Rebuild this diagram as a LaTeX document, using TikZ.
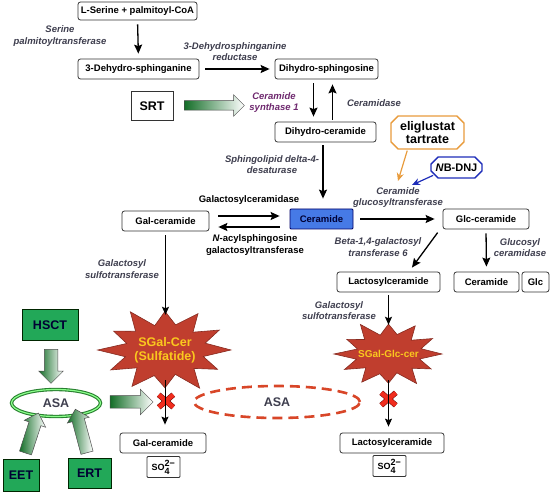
\documentclass[tikz,border=0pt]{standalone}
\usepackage{fontspec}
\setmainfont{Liberation Sans}
\usepackage{tikz}
\usetikzlibrary{shapes,arrows.meta,backgrounds,calc,positioning}
\definecolor{enzgray}{RGB}{62,62,78}
\definecolor{synpurple}{RGB}{110,40,110}
\definecolor{cerblue}{RGB}{70,122,230}
\definecolor{boxgreen}{RGB}{34,168,88}
\definecolor{darkgreen}{RGB}{20,110,40}
\definecolor{asagreen}{RGB}{50,160,60}
\definecolor{burstred}{RGB}{192,62,46}
\definecolor{burstyellow}{RGB}{250,200,30}
\definecolor{eliorange}{RGB}{232,155,60}
\definecolor{nbblue}{RGB}{30,45,185}
\definecolor{asared}{RGB}{216,70,40}
\definecolor{xred}{RGB}{240,45,30}

\begin{document}
\begin{tikzpicture}[x=1pt, y=-1pt,
mol/.style={draw=black!80, rounded corners=2.5pt, fill=white, line width=0.8pt, minimum height=20pt, inner sep=0pt, font=\fontsize{9.5}{11}\selectfont\bfseries},
enz/.style={align=center, text=enzgray, inner sep=0pt, font=\fontsize{9.5}{11.5}\selectfont\bfseries\itshape},
lbl/.style={enz, text=black, font=\fontsize{9.5}{11.5}\selectfont\bfseries},
arr/.style={-{Stealth[length=9pt,width=8pt,inset=1.5pt]}, line width=1.3pt, shorten <=4pt, shorten >=5pt},
thin arr/.style={arr, line width=1pt, -{Stealth[length=8pt,width=7pt,inset=1.5pt]}},
therapy/.style={draw=black!85!green, fill=boxgreen, line width=1pt, font=\fontsize{12.5}{14}\selectfont\bfseries, text=black!80!blue},
fat/.style={single arrow, draw=black!70, line width=0.5pt, left color=darkgreen, right color=white, inner xsep=0pt, single arrow head indent=0pt},
burst/.style={fill=burstred, draw=burstred!70!black, line width=0.6pt},
burstlbl/.style={align=center, text=burstyellow, inner sep=0pt},
xmark/.style={cross out, draw=red!40!black, double=xred, double distance=4.5pt, line width=0.5pt, minimum width=14pt, minimum height=12pt, inner sep=0pt},
drug/.style={chamfered rectangle, line width=1.4pt, fill=white, align=center, inner sep=1pt},
pill/.style={ellipse, fill=white, text=enzgray, font=\fontsize{12.5}{14}\selectfont\bfseries},
]
\useasboundingbox (0,0) rectangle (550,492);

\node[mol, minimum width=119pt, minimum height=18pt] (ser) at (137.5,11) {L-Serine + palmitoyl-CoA};
\node[mol, minimum width=121pt] (dhsn) at (138.5,69) {3-Dehydro-sphinganine};
\node[mol, minimum width=103pt] (dhsg) at (326.5,69) {Dihydro-sphingosine};
\node[mol, minimum width=101pt] (dhc) at (325.5,132) {Dihydro-ceramide};
\node[mol, fill=cerblue, draw=blue!40!black, rounded corners=1pt, minimum width=63pt, text=blue!20!black] (cer) at (321.5,219) {Ceramide};
\node[mol, minimum width=87pt] (gal) at (165.5,221) {Gal-ceramide};
\node[mol, minimum width=86pt] (glc) at (486,219) {Glc-ceramide};
\node[mol, minimum width=103pt] (lac) at (388.5,282) {Lactosylceramide};
\node[mol, minimum width=65pt] (cerb) at (486.5,282) {Ceramide};
\node[mol, minimum width=27pt] (glcb) at (535.5,282) {Glc};
\node[mol, minimum width=86pt] (galb) at (163,443) {Gal-ceramide};
\node[mol, rounded corners=1pt, minimum width=33pt, minimum height=21pt, font=\fontsize{9}{10}\selectfont\bfseries] (soa) at (163.5,467) {SO$_{\textbf{4}}^{\textbf{2−}}$};
\node[mol, minimum width=104pt] (lacb) at (392,443) {Lactosylceramide};
\node[mol, rounded corners=1pt, minimum width=33pt, minimum height=21pt, font=\fontsize{9}{10}\selectfont\bfseries] (sob) at (389.5,466) {SO$_{\textbf{4}}^{\textbf{2−}}$};

\node[draw=black!80, line width=0.8pt, minimum width=42pt, minimum height=29pt, font=\fontsize{12.5}{14}\selectfont\bfseries] (srt) at (152,106) {SRT};
\node[therapy, minimum width=56pt, minimum height=31pt] (hsct) at (50,325.5) {HSCT};
\node[therapy, minimum width=36pt, minimum height=31pt] (eet) at (21,475.5) {EET};
\node[therapy, minimum width=43pt, minimum height=29pt] (ert) at (89.5,473.5) {ERT};

\node[pill, draw=asagreen!80!black, double=green!45, double distance=1.2pt, line width=1.1pt, minimum width=89pt, minimum height=27pt] (asa) at (56,403) {ASA};
\node[pill, draw=asared, line width=2.6pt, dash pattern=on 10pt off 6pt, minimum width=166pt, minimum height=32pt] (asad) at (277,402) {ASA};

\node[drug, draw=eliorange, minimum width=73pt, minimum height=33pt, font=\fontsize{12.5}{13.5}\selectfont\bfseries] (eli) at (427.5,132.5) {eliglustat\\tartrate};
\node[drug, draw=nbblue, minimum width=51pt, minimum height=21pt, font=\fontsize{11}{12}\selectfont\bfseries] (nb) at (456.5,167.5) {\textit{N}B-DNJ};
\coordinate (gcsa) at (398,181);
\coordinate (gcsb) at (412,185);

\node[enz] (spt) at (60,36) {Serine\\palmitoyltransferase};
\node[enz] (kdsr) at (235,51.5) {3-Dehydrosphinganine\\reductase};
\node[enz, text=synpurple] (cs1) at (274,102.5) {Ceramide\\synthase 1};
\node[enz] (cdase) at (374,103) {Ceramidase};
\node[enz] (d4) at (272,164.5) {Sphingolipid delta-4-\\desaturase};
\node[enz] (gcs) at (398,197.5) {Ceramide\\glucosyltransferase};
\node[lbl] (galc) at (249,200) {Galactosylceramidase};
\node[lbl] (cgt) at (255,245) {\textit{N}-acylsphingosine\\galactosyltransferase};
\node[enz] (b4) at (378,247) {Beta-1,4-galactosyl\\transferase 6};
\node[enz] (glcd) at (520,247.5) {Glucosyl\\ceramidase};
\node[enz] (gsta) at (122,269) {Galactosyl\\sulfotransferase};
\node[enz] (gstb) at (339,310.5) {Galactosyl\\sulfotransferase};

\node[burstlbl, minimum height=64pt, font=\fontsize{12.5}{14}\selectfont\bfseries] (sulf) at (165,350) {SGal-Cer\\(Sulfatide)};
\node[burstlbl, minimum height=52pt, font=\fontsize{10}{12}\selectfont\bfseries] (sgg) at (388.5,354) {SGal-Glc-cer};
\begin{scope}[on background layer]
\draw[burst, shift={(sulf.center)}] (66,0) \foreach \a/\r in {15/.6,30/.92,45/.62,60/1.05,75/.6,90/.9,105/.63,120/1,135/.6,150/.95,165/.62,180/1.02,195/.6,210/.9,225/.63,240/1.05,255/.6,270/.92,285/.62,300/1,315/.6,330/.95,345/.63} { -- ({\r*66*cos(\a)},{\r*42*sin(\a)}) } -- cycle;
\draw[burst, shift={(sgg.center)}] (53.5,0) \foreach \a/\r in {15/.6,30/.92,45/.62,60/1.05,75/.6,90/.9,105/.63,120/1,135/.6,150/.95,165/.62,180/1.02,195/.6,210/.9,225/.63,240/1.05,255/.6,270/.92,285/.62,300/1,315/.6,330/.95,345/.63} { -- ({\r*53.5*cos(\a)},{\r*32.5*sin(\a)}) } -- cycle;
\end{scope}

\node[fat, minimum height=60pt, inner ysep=4.5pt, single arrow head extend=6pt] (srtarr) at (212,105.5) {};
\node[fat, rotate=-90, minimum height=34pt, inner ysep=6.5pt, single arrow head extend=5.5pt] (hsarr) at (51,363) {};
\node[fat, minimum height=43pt, inner ysep=6pt, single arrow head extend=6.5pt] (asaarr) at (128.5,402) {};
\node[fat, rotate=72, minimum height=42pt, inner ysep=6pt, single arrow head extend=5pt] (eetarr) at (31,436) {};
\node[fat, rotate=105, minimum height=45pt, inner ysep=6pt, single arrow head extend=5pt] (ertarr) at (82,434) {};

\node[xmark] (blka) at (166,401) {};
\node[xmark] (blkb) at (388.5,399) {};

\draw[arr] (ser.south) -- (dhsn.north);
\draw[arr, shorten <=6pt] (dhsn) -- (dhsg);
\draw[arr] ([xshift=-13pt]dhsg.south) -- ([xshift=-12pt]dhc.north);
\draw[arr, shorten <=2pt] ([xshift=7pt]dhc.north) -- ([xshift=6pt]dhsg.south);
\draw[arr, shorten <=3pt, shorten >=10pt] ([xshift=-2.5pt]dhc.south) -- ([xshift=1.5pt]cer.north);
\draw[arr, shorten <=9pt, shorten >=10pt] ($(gal.east)+(0,-5)$) -- ($(cer.west)+(0,-3)$);
\draw[arr, shorten <=10pt, shorten >=9pt] ($(cer.west)+(0,8)$) -- ($(gal.east)+(0,6)$);
\draw[arr, shorten <=7pt, shorten >=8pt] (cer) -- (glc);
\draw[arr] ([xshift=-46pt]glc.south) -- ([xshift=20.5pt]lac.north);
\draw[arr] (glc.south) -- (cerb.north);
\draw[thin arr, shorten >=3pt] (gal.south) -- (gal.south |- sulf.north);
\draw[thin arr, shorten <=3pt, shorten >=3pt] (lac.south) -- (sgg.north);
\draw[thin arr, shorten <=-2pt, shorten >=8pt] (sulf.south) -- (sulf.south |- galb.north);
\draw[thin arr, shorten <=0pt, shorten >=6pt] (sgg.south) -- (sgg.south |- lacb.north);
\draw[-{Stealth[length=8pt,width=7pt]}, line width=1.2pt, eliorange, shorten <=1pt] ([xshift=-20pt]eli.south) -- (gcsa);
\draw[-{Stealth[length=8pt,width=7pt]}, line width=1.2pt, nbblue, shorten <=1pt] (nb.south west) -- (gcsb);
\end{tikzpicture}
\end{document}
